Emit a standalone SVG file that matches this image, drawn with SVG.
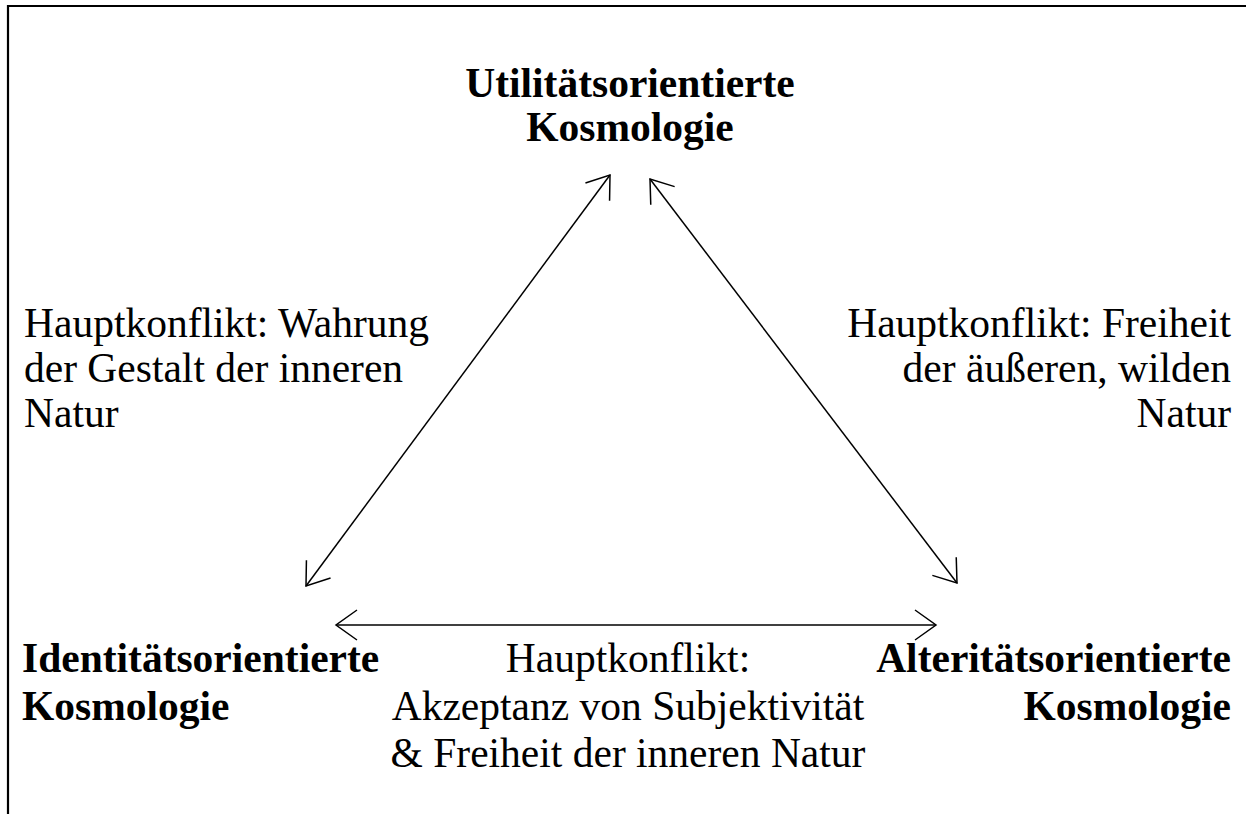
<svg xmlns="http://www.w3.org/2000/svg" width="1246" height="814" viewBox="0 0 1246 814">
<style>
.t{font-family:"Liberation Serif","Times New Roman",serif;font-size:41.5px;fill:#000}
.b{font-weight:bold}
.c{stroke:#000;stroke-width:1.5;fill:none}
</style>
<defs>
<marker id="ah" viewBox="-25 -18 28 36" refX="0" refY="0" markerWidth="28" markerHeight="36" markerUnits="userSpaceOnUse" orient="auto-start-reverse">
<path d="M-21,-15 L0,0 L-21,15" fill="none" stroke="#000" stroke-width="1.5"/>
</marker>
</defs>
<rect width="1246" height="814" fill="#fff"/>
<path d="M8,814 V6 H1246" fill="none" stroke="#000" stroke-width="2.2"/>
<g id="connectors">
<line class="c" x1="306" y1="586" x2="610" y2="175" marker-start="url(#ah)" marker-end="url(#ah)"/>
<line class="c" x1="650" y1="179" x2="957" y2="583" marker-start="url(#ah)" marker-end="url(#ah)"/>
<line class="c" x1="336" y1="625" x2="936" y2="625" marker-start="url(#ah)" marker-end="url(#ah)"/>
</g>
<g id="utilitaet">
<text class="t b" text-anchor="middle" x="630" y="97">Utilitätsorientierte</text>
<text class="t b" text-anchor="middle" x="630" y="141">Kosmologie</text>
</g>
<g id="identitaet">
<text class="t b" x="22" y="672">Identitätsorientierte</text>
<text class="t b" x="22" y="720">Kosmologie</text>
</g>
<g id="alteritaet">
<text class="t b" text-anchor="end" x="1231" y="672">Alteritätsorientierte</text>
<text class="t b" text-anchor="end" x="1231" y="720">Kosmologie</text>
</g>
<g id="label-left">
<text class="t" x="24" y="337">Hauptkonflikt: Wahrung</text>
<text class="t" x="24" y="382">der Gestalt der inneren</text>
<text class="t" x="24" y="427">Natur</text>
</g>
<g id="label-right">
<text class="t" text-anchor="end" x="1231" y="337">Hauptkonflikt: Freiheit</text>
<text class="t" text-anchor="end" x="1231" y="382">der äußeren, wilden</text>
<text class="t" text-anchor="end" x="1231" y="427">Natur</text>
</g>
<g id="label-bottom">
<text class="t" text-anchor="middle" x="628" y="672">Hauptkonflikt:</text>
<text class="t" text-anchor="middle" x="628" y="720">Akzeptanz von Subjektivität</text>
<text class="t" text-anchor="middle" x="628" y="767">&amp; Freiheit der inneren Natur</text>
</g>
</svg>
